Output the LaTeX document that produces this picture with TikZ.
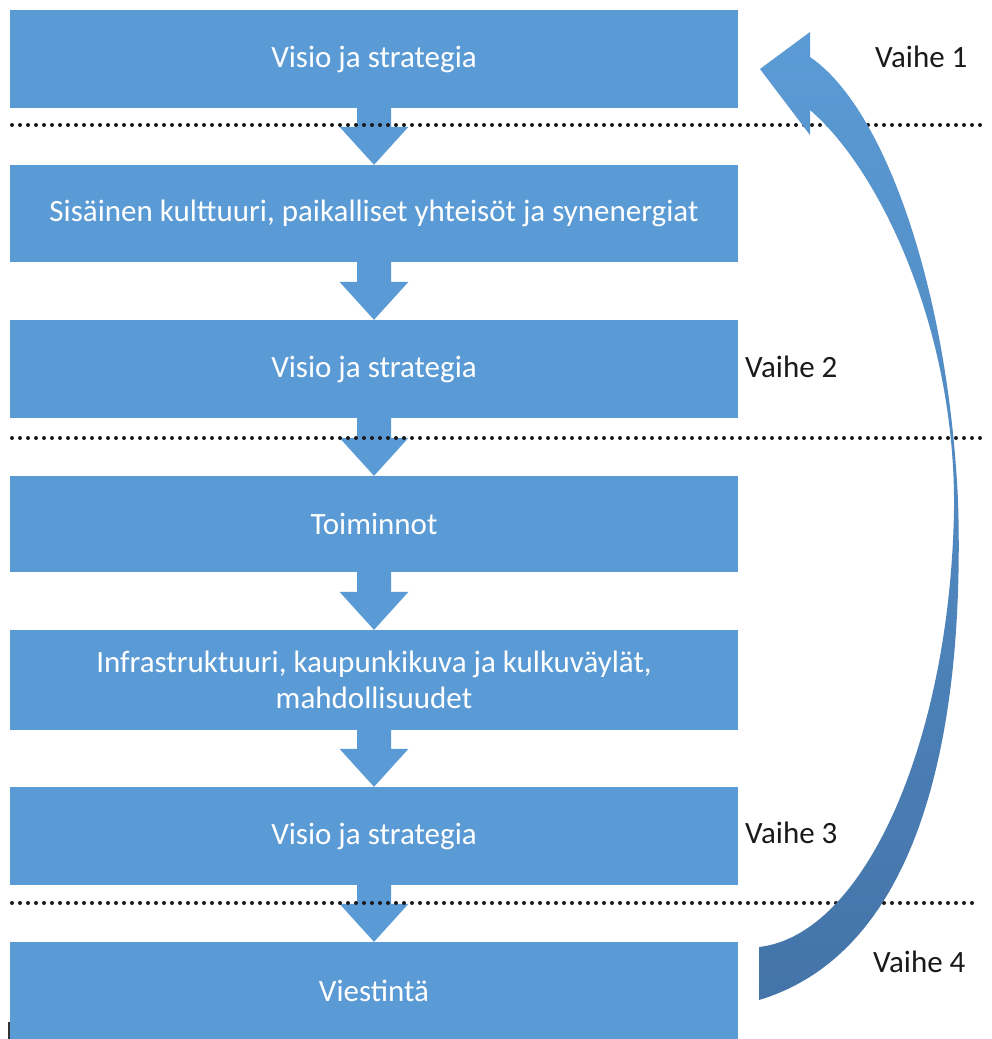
\documentclass[tikz,border=0pt]{standalone}
\usepackage{fontspec}
\setmainfont{Carlito}
\usetikzlibrary{calc}
\definecolor{boxblue}{HTML}{5B9BD5}
\definecolor{deepblue}{HTML}{4474A8}
\definecolor{labelgray}{HTML}{1A1A1A}
\tikzset{
  stage/.style={fill=boxblue, draw=none, minimum width=728pt, inner sep=0pt,
    text=white, align=center, font=\fontsize{31}{36}\selectfont},
  phase/.style={anchor=west, inner sep=0pt, text=labelgray,
    font=\fontsize{31}{36}\selectfont},
  dotline/.style={line width=4pt, dash pattern=on 0pt off 8pt, line cap=round, black!90},
}
% down arrow between two stacked stages
\newcommand\flowarrow[2]{%
  \fill[boxblue] ($(#1.south)+(-17,-1)$) -- ($(#2.north)+(-17,-38)$)
    -- ($(#2.north)+(-34.5,-38)$) -- (#2.north) -- ($(#2.north)+(34.5,-38)$)
    -- ($(#2.north)+(17,-38)$) -- ($(#1.south)+(17,-1)$) -- cycle;}
\begin{document}
\begin{tikzpicture}[x=1pt,y=-1pt]
\useasboundingbox (0,0) rectangle (991,1039);
\fill[white] (0,0) rectangle (991,1039);

% stages
\node[stage, minimum height=98pt]  (s1) at (374,59)    {Visio ja strategia};
\node[stage, minimum height=97pt]  (s2) at (374,213.5) {Sisäinen kulttuuri, paikalliset yhteisöt ja synenergiat};
\node[stage, minimum height=98pt]  (s3) at (374,369)   {Visio ja strategia};
\node[stage, minimum height=96pt]  (s4) at (374,524)   {Toiminnot};
\node[stage, minimum height=100pt] (s5) at (374,680)   {Infrastruktuuri, kaupunkikuva ja kulkuväylät,\\mahdollisuudet};
\node[stage, minimum height=98pt]  (s6) at (374,836)   {Visio ja strategia};
\node[stage, minimum height=97pt]  (s7) at (374,990.5) {Viestintä};

% arrows between stages
\flowarrow{s1}{s2}
\flowarrow{s2}{s3}
\flowarrow{s3}{s4}
\flowarrow{s4}{s5}
\flowarrow{s5}{s6}
\flowarrow{s6}{s7}

% phase separators
\draw[dotline] (12,125) -- (985,125);
\draw[dotline] (12,438) -- (985,438);
\draw[dotline] (12,903) -- (978,903);

% return arrow from the last stage back to the first
\shade[top color=boxblue, bottom color=deepblue]
  (760,69) -- (810,32) -- (810,57)
  .. controls (885,108) and (948,290) .. (958,500)
  .. controls (965,720) and (925,950) .. (759,1000)
  -- (759,947)
  .. controls (865,935) and (950,740) .. (954,510)
  .. controls (956,330) and (880,170) .. (810,110)
  -- (810,135) -- cycle;

% phase labels
\node[phase] (p1) at (875,57)  {Vaihe 1};
\node[phase] (p2) at (745,367) {Vaihe 2};
\node[phase] (p3) at (745,833) {Vaihe 3};
\node[phase] (p4) at (873,962) {Vaihe 4};

% small mark at the lower left edge
\draw[line width=1.5pt, black!80] (9,1022) -- (9,1039);
\end{tikzpicture}
\end{document}
